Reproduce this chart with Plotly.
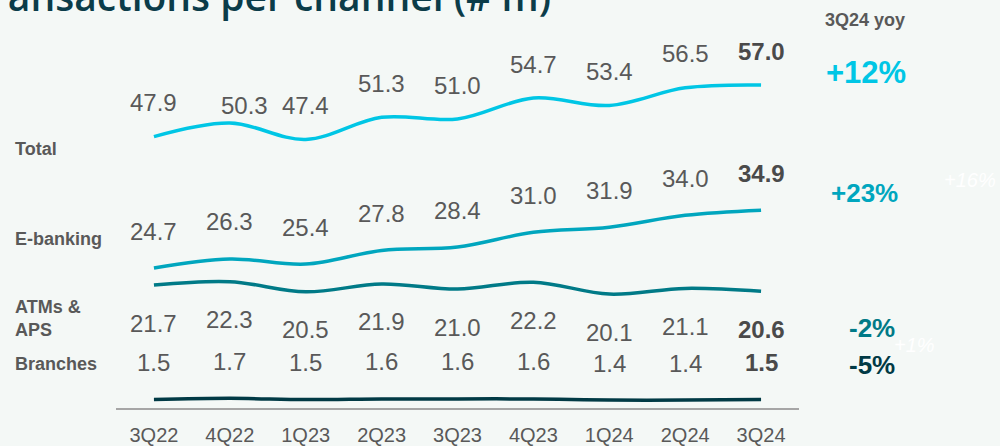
import plotly.graph_objects as go

quarters = ["3Q22", "4Q22", "1Q23", "2Q23", "3Q23", "4Q23", "1Q24", "2Q24", "3Q24"]
total = [47.9, 50.3, 47.4, 51.3, 51.0, 54.7, 53.4, 56.5, 57.0]
ebanking = [24.7, 26.3, 25.4, 27.8, 28.4, 31.0, 31.9, 34.0, 34.9]
atms = [21.7, 22.3, 20.5, 21.9, 21.0, 22.2, 20.1, 21.1, 20.6]
branches = [1.5, 1.7, 1.5, 1.6, 1.6, 1.6, 1.4, 1.4, 1.5]
yoy = ["+12%", "+23%", "-2%", "-5%"]

BG = "#F4F8F6"
GREY = "#595959"
FONT = "Liberation Sans, Arial, sans-serif"

# name, values, colour, label offset (px, + = above)
series = [
    ("Total", total, "#00C6E5", 34),
    ("E-banking", ebanking, "#00A6BE", 37),
    ("ATMs & APS", atms, "#007A87", -38),
    ("Branches", branches, "#013A45", 37),
]
# a single label Excel nudged aside
nudge = {("Total", 1): (15, 17)}

L, R, T, B = 116, 201, 0, 32
W, H = 1000 - L - R, 446 - T - B
K = 0.988  # vertical fudge seen in the screenshots


def px(x):
    return (x - L) / W


def py(y):
    return (446 - B - y / K) / H


def note(txt, x, y, font, xa="center", ya="middle"):
    return dict(x=px(x), y=py(y), xref="paper", yref="paper", text=txt, showarrow=False,
                xanchor=xa, yanchor=ya, align="left", font=font)


fig = go.Figure()
ann = []
for name, vals, col, off in series:
    fig.add_trace(go.Scatter(x=quarters, y=vals, mode="lines", name=name,
                             line=dict(color=col, width=3.5, shape="spline", smoothing=1),
                             hoverinfo="skip"))
    for i, (q, v) in enumerate(zip(quarters, vals)):
        last = i == len(vals) - 1
        dx, dy = nudge.get((name, i), (0, off))
        ann.append(dict(x=q, y=v, xref="x", yref="y", text=f"{v:.1f}", showarrow=False,
                        xanchor="center", yanchor="middle", xshift=dx, yshift=dy,
                        font=dict(family=FONT, size=24, color="#4A4A4A" if last else GREY,
                                  weight="bold" if last else "normal")))

# channel names on the left
for txt, y in [("Total", 149), ("E-banking", 240), ("ATMs &<br>APS", 319), ("Branches", 365)]:
    ann.append(note(txt, 13, y, dict(family=FONT, size=18, color=GREY, weight="bold"), xa="left"))

# yoy column
ann.append(note("3Q24 yoy", 865, 20, dict(family=FONT, size=18, color=GREY, weight="bold")))
for (name, vals, col, off), txt, (x, y, s) in zip(series, yoy, [(866, 73, 31), (864, 193, 26),
                                                           (872, 329, 26), (872, 366, 26)]):
    ann.append(note(txt, x, y, dict(family=FONT, size=s, color=col, weight="bold")))

# faint leftovers from the slide
for txt, x, y in [("+16%", 970, 180), ("+1%", 914, 346)]:
    ann.append(note(txt, x, y, dict(family=FONT, size=20, color="#FFFFFF", style="italic")))

# title, cut off by the top edge
ann.append(note("Transactions per channel (# m)", 553, -5,
                dict(family="Open Sans, sans-serif", size=39, color="#0B3C49", weight=600),
                xa="right"))

fig.update_layout(
    width=1000, height=446, autosize=False,
    margin=dict(l=L, r=R, t=T, b=B),
    paper_bgcolor=BG, plot_bgcolor=BG,
    showlegend=False,
    annotations=ann,
    xaxis=dict(type="category", range=[-0.5, 8.5], showgrid=False, zeroline=False,
               showline=True, linecolor="#A6A6A6", linewidth=1.5,
               ticks="", ticklabelstandoff=8,
               tickfont=dict(family=FONT, size=20, color=GREY), fixedrange=True),
    yaxis=dict(range=[0, 72], visible=False, showgrid=False, fixedrange=True),
)

fig.write_html("out.html", config={"displayModeBar": False, "responsive": False},
               post_script="document.body.style.margin='0';")
